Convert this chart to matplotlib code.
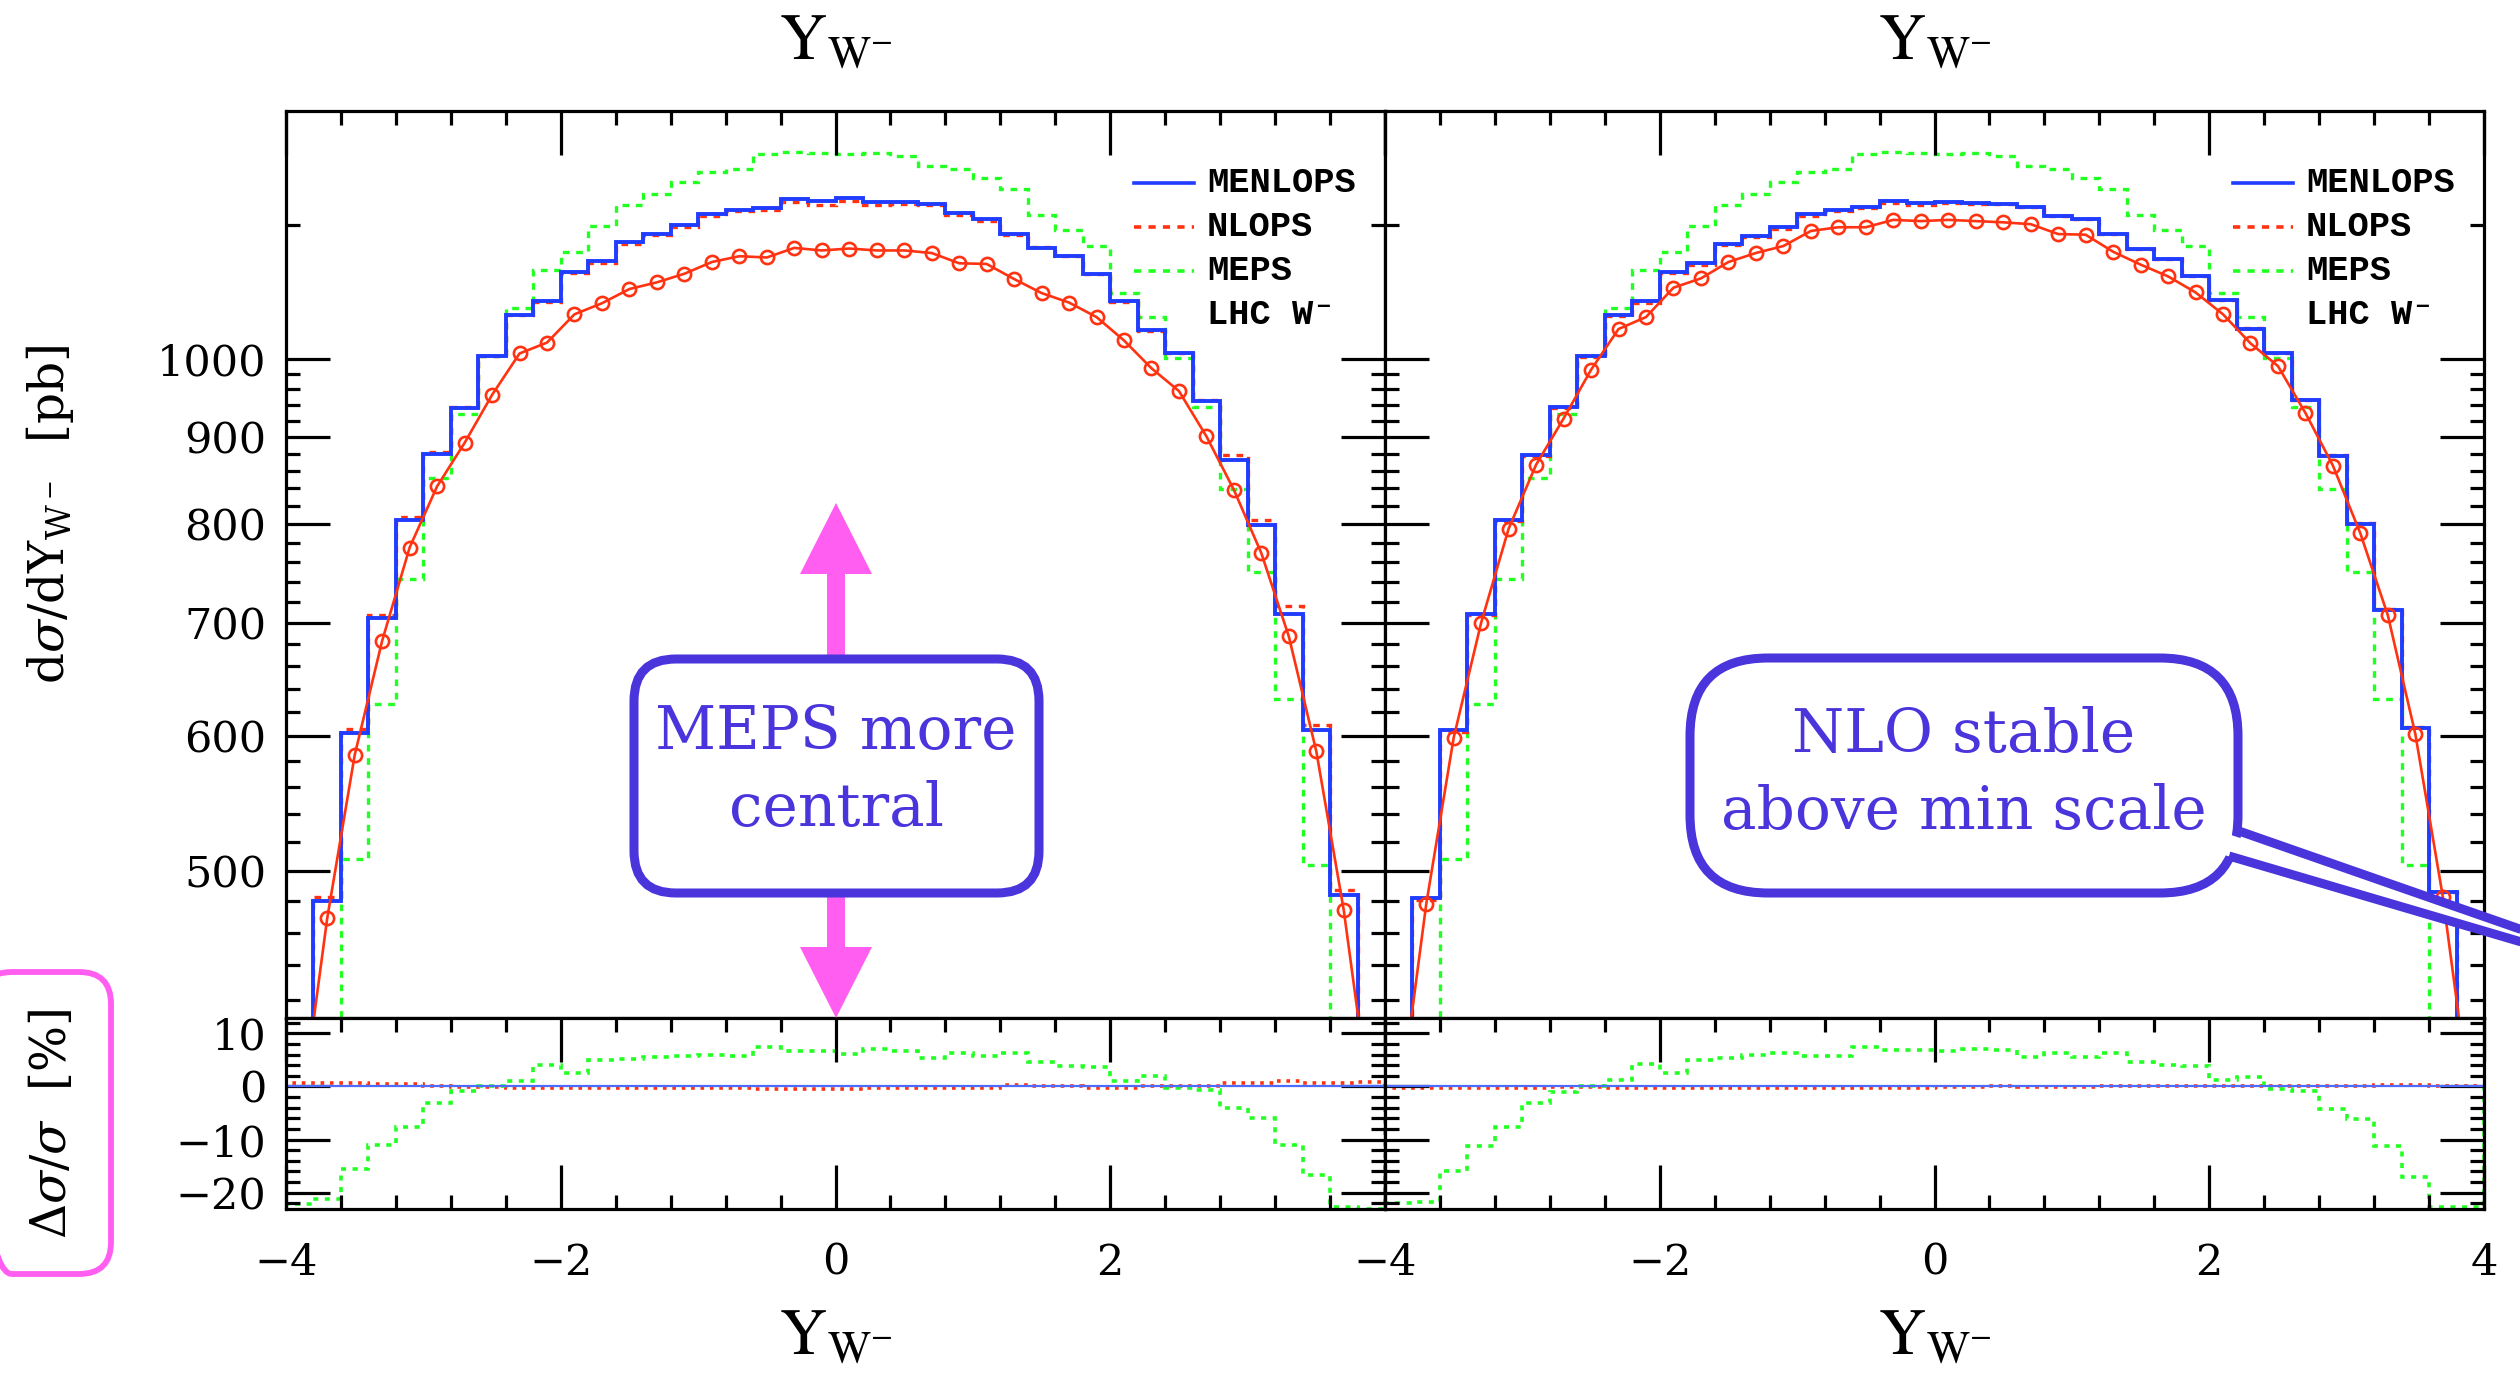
import numpy as np
import matplotlib
matplotlib.use('Agg')
import matplotlib.pyplot as plt
from matplotlib.patches import FancyBboxPatch, Polygon
from matplotlib.lines import Line2D
from matplotlib.transforms import IdentityTransform
from matplotlib.ticker import FixedLocator, FixedFormatter, MultipleLocator, NullFormatter

W, H = 2520, 1375

# bins of Y_W- (width 0.2)
bin_edges = np.round(np.arange(-3.8, 3.81, 0.2), 1)      # 38 bins, main panel
ratio_edges = np.round(np.arange(-4.0, 4.01, 0.2), 1)    # 40 bins, ratio panel
nlo_x = np.round(np.arange(-3.9, 3.91, 0.2), 1)           # bin centres for the NLO curve

# left panel
menlops_L = [480, 603, 704, 804, 880, 936, 1004, 1062, 1083, 1126, 1142, 1172, 1185, 1199, 1217, 1225, 1227, 1242, 1239,
             1244, 1237, 1237, 1235, 1219, 1210, 1185, 1163, 1150, 1123, 1083, 1041, 1008, 945, 873, 799, 708, 605, 484]
nlops_L = [483, 606, 707, 808, 882, 937, 1005, 1062, 1081, 1124, 1140, 1169, 1183, 1196, 1214, 1223, 1224, 1237, 1233,
           1239, 1233, 1234, 1232, 1216, 1206, 1183, 1165, 1150, 1123, 1081, 1039, 1009, 946, 878, 804, 716, 609, 487]
nlo_L = [355, 469, 585, 683, 775, 842, 893, 953, 1008, 1023, 1063, 1079, 1100, 1110, 1123, 1141, 1150, 1148, 1163, 1159,
         1162, 1159, 1159, 1155, 1139, 1138, 1115, 1094, 1080, 1059, 1026, 988, 958, 901, 838, 769, 687, 588, 474, 360]
nlops_ratio_L = [0.6, 0.6, 0.6, 0.5, 0.5, 0.0, -0.1, -0.1, -0.2, -0.2, -0.2, -0.3, -0.2, -0.3, -0.3, -0.2, -0.3, -0.4, -0.5, -0.4,
                 -0.4, -0.3, -0.2, -0.2, -0.3, -0.2, 0.2, 0.0, 0.0, -0.2, -0.2, 0.1, 0.1, 0.0, 0.6, 0.6, 1.0, 0.6, 0.6, 0.8]
meps_ratio_L = [-22.1, -21.3, -15.6, -11.0, -7.7, -3.1, -0.9, 0.0, 1.1, 4.1, 2.6, 4.9, 5.1, 5.5, 5.7, 5.9, 5.7, 7.4, 6.6, 6.6,
                6.1, 7.0, 6.6, 5.3, 6.3, 5.8, 6.4, 4.7, 3.8, 3.7, 1.1, 1.9, -0.3, -0.6, -4.1, -6.0, -11.0, -16.7, -22.7, -23.0]

# right panel
menlops_R = [482, 605, 708, 804, 879, 938, 1004, 1062, 1082, 1126, 1139, 1169, 1182, 1196, 1217, 1225, 1230, 1239, 1236,
             1237, 1236, 1235, 1230, 1215, 1210, 1185, 1162, 1146, 1119, 1084, 1042, 1008, 946, 877, 800, 712, 607, 486]
nlops_R = [481, 604, 707, 803, 877, 936, 1003, 1061, 1080, 1124, 1136, 1167, 1180, 1193, 1215, 1222, 1227, 1236, 1233,
           1236, 1235, 1235, 1229, 1214, 1209, 1185, 1162, 1146, 1120, 1084, 1043, 1009, 946, 878, 801, 713, 608, 486]
nlo_R = [360, 478, 599, 700, 795, 867, 923, 986, 1042, 1059, 1102, 1116, 1141, 1155, 1166, 1190, 1196, 1196, 1208, 1206,
         1208, 1206, 1204, 1201, 1185, 1184, 1157, 1137, 1119, 1095, 1063, 1022, 991, 930, 866, 790, 707, 602, 483, 365]
nlops_ratio_R = [-0.3, -0.3, -0.2, -0.2, -0.2, -0.2, -0.1, -0.1, -0.2, -0.2, -0.3, -0.2, -0.2, -0.3, -0.2, -0.2, -0.3, -0.2, -0.3, -0.2,
                 -0.1, -0.1, 0.0, -0.1, -0.1, -0.1, 0.0, 0.0, 0.1, 0.0, 0.0, 0.1, 0.1, 0.0, 0.1, 0.1, 0.2, 0.2, 0.1, 0.1]
meps_ratio_R = [-22.0, -21.8, -16.0, -11.3, -7.7, -3.1, -1.1, 0.0, 1.3, 4.3, 2.6, 5.0, 5.3, 5.9, 6.3, 5.8, 5.8, 7.4, 6.8, 6.8,
                6.6, 7.1, 6.8, 5.6, 6.4, 5.6, 6.4, 4.7, 4.0, 3.9, 1.3, 1.8, -0.4, -0.8, -4.3, -6.2, -11.3, -17.0, -22.7, -22.7]

# MEPS is the same sample in both panels
meps = [378, 508, 627, 743, 852, 929, 1005, 1072, 1128, 1157, 1198, 1232, 1251, 1271, 1289, 1294, 1320, 1325, 1322,
        1320, 1323, 1318, 1299, 1294, 1279, 1260, 1216, 1191, 1166, 1094, 1059, 1002, 938, 839, 750, 631, 504, 374]

y_major = [500, 600, 700, 800, 900, 1000]
y_minor = [v for v in range(420, 1000, 20) if v % 100 != 0] + [1200]
ratio_major = [-20, -10, 0, 10]
legend_names = ['MENLOPS', 'NLOPS', 'MEPS', 'LHC W\u207b']

BLUE = '#1f3cff'
RED = '#ff3311'
GREEN = '#22ff22'
PURPLE = '#4a34dc'
PINK = '#ff5ef0'
SERIF = ['DejaVu Serif']
TICKFS = 31

fig = plt.figure(figsize=(W / 100, H / 100), dpi=100)


def style_axis(ax):
    for s in ax.spines.values():
        s.set_linewidth(2.3)
    ax.tick_params(which='both', direction='in', width=2.3, left=True, right=True, labelsize=TICKFS)
    ax.tick_params(which='major', length=32)
    ax.tick_params(which='minor', length=10)
    for lab in ax.get_xticklabels() + ax.get_yticklabels():
        lab.set_family(SERIF)


def panel(x0, menlops, nlops, nlo, nlops_ratio, meps_ratio, first):
    ax = fig.add_axes([x0 / W, 1 - 1017.5 / H, 1099 / W, 906.5 / H])
    ar = fig.add_axes([x0 / W, 1 - 1208.5 / H, 1099 / W, 191 / H])

    ax.stairs(meps, bin_edges, baseline=100, color=GREEN, lw=2.4, linestyle=(0, (2, 2)))
    ax.stairs(nlops, bin_edges, baseline=100, color=RED, lw=2.4, linestyle=(0, (2, 2)))
    ax.stairs(menlops, bin_edges, baseline=100, color=BLUE, lw=2.8)
    ax.plot(nlo_x, nlo, color=RED, lw=1.9, marker='o', ms=9.5, mfc='none', mec=RED, mew=1.9)

    ax.set_yscale('log')
    ax.set_xlim(-4, 4)
    ax.set_ylim(410, 1400)
    ax.yaxis.set_major_locator(FixedLocator(y_major))
    ax.yaxis.set_minor_locator(FixedLocator(y_minor))
    ax.yaxis.set_minor_formatter(NullFormatter())
    if first:
        ax.yaxis.set_major_formatter(FixedFormatter([str(v) for v in y_major]))
    else:
        ax.yaxis.set_major_formatter(NullFormatter())
    ax.xaxis.set_major_locator(FixedLocator([-4, -2, 0, 2, 4]))
    ax.xaxis.set_minor_locator(MultipleLocator(0.4))
    ax.tick_params(which='both', top=True, bottom=False, labelbottom=False)
    ax.tick_params(axis='y', pad=14)
    style_axis(ax)

    # legend
    for i, (name, col, ls) in enumerate(zip(legend_names, [BLUE, RED, GREEN, None],
                                            ['-', (0, (2, 2)), (0, (2, 2)), None])):
        yy = 0.9206 - i * 0.0484
        if col is not None:
            ax.add_line(Line2D([0.772, 0.826], [yy, yy], transform=ax.transAxes,
                               color=col, lw=2.6, linestyle=ls))
        ax.text(0.838, yy, name, transform=ax.transAxes, va='center', ha='left',
                family=['Liberation Mono', 'DejaVu Sans Mono'], weight='bold', fontsize=25.5)

    # ratio panel
    ar.axhline(0, color='#4d6bff', lw=1.6)
    ar.stairs(nlops_ratio, ratio_edges, baseline=0, color=RED, lw=2.6, linestyle=(0, (1, 1.6)))
    ar.stairs(meps_ratio, ratio_edges, baseline=0, color=GREEN, lw=2.6, linestyle=(0, (1.4, 1.8)))
    ar.set_xlim(-4, 4)
    ar.set_ylim(-23, 13)
    ar.yaxis.set_major_locator(FixedLocator(ratio_major))
    ar.yaxis.set_minor_locator(MultipleLocator(2))
    if first:
        ar.yaxis.set_major_formatter(FixedFormatter(['\u221220', '\u221210', '0', '10']))
        xl = ['\u22124', '\u22122', '0', '2', '']
    else:
        ar.yaxis.set_major_formatter(NullFormatter())
        xl = ['\u22124', '\u22122', '0', '2', '4']
    ar.xaxis.set_major_locator(FixedLocator([-4, -2, 0, 2, 4]))
    ar.xaxis.set_major_formatter(FixedFormatter(xl))
    ar.xaxis.set_minor_locator(MultipleLocator(0.4))
    ar.tick_params(which='both', top=True, bottom=True)
    ar.tick_params(axis='x', pad=24)
    ar.tick_params(axis='y', pad=14)
    style_axis(ar)
    return ax, ar


panel(286, menlops_L, nlops_L, nlo_L, nlops_ratio_L, meps_ratio_L, True)
panel(1385, menlops_R, nlops_R, nlo_R, nlops_ratio_R, meps_ratio_R, False)

# titles and axis labels
ytitle = r'$\mathrm{Y}_{\mathrm{W}^{-}}$'
for xc in (836, 1935):
    fig.text(xc / W, 1 - 60 / H, ytitle, ha='center', va='baseline', fontsize=47, math_fontfamily='stix')
    fig.text(xc / W, 1 - 1355 / H, ytitle, ha='center', va='baseline', fontsize=47, math_fontfamily='stix')

fig.text(50 / W, 1 - 514 / H, r'd$\sigma$/dY$_{\mathregular{W^-}}$  [pb]', rotation=90, ha='center', va='center',
         family=SERIF, fontsize=35, math_fontfamily='dejavuserif')
fig.text(52 / W, 1 - 1124 / H, r'$\Delta\sigma$/$\sigma$  [%]', rotation=90, ha='center', va='center',
         family=SERIF, fontsize=35, math_fontfamily='dejavuserif')

ident = IdentityTransform()


def top(y):
    return H - y


# pink box round the ratio label
fig.add_artist(FancyBboxPatch((-20, top(1274)), 131, 302, boxstyle='round,pad=0,rounding_size=32',
                              transform=ident, fc='none', ec=PINK, lw=4.2))

# pink double arrow
shaft, head = 9, 36
up = [(836 - shaft, top(657)), (836 - shaft, top(574)), (836 - head, top(574)), (836, top(503)),
      (836 + head, top(574)), (836 + shaft, top(574)), (836 + shaft, top(657))]
dn = [(836 - shaft, top(893)), (836 - shaft, top(947)), (836 - head, top(947)), (836, top(1018)),
      (836 + head, top(947)), (836 + shaft, top(947)), (836 + shaft, top(893))]
for pts in (up, dn):
    fig.add_artist(Polygon(pts, closed=True, transform=ident, fc=PINK, ec='none', zorder=5))

# "MEPS more central" box
fig.add_artist(FancyBboxPatch((634, top(893)), 405, 234, boxstyle='round,pad=0,rounding_size=42',
                              transform=ident, fc='white', ec=PURPLE, lw=6.5, zorder=6))
fig.text(836 / W, 1 - 749 / H, 'MEPS more', ha='center', va='baseline', color=PURPLE, family=SERIF, fontsize=43, zorder=7)
fig.text(836 / W, 1 - 826 / H, 'central', ha='center', va='baseline', color=PURPLE, family=SERIF, fontsize=43, zorder=7)

# "NLO stable above min scale" speech bubble
fig.add_artist(FancyBboxPatch((1690, top(893)), 548, 235, boxstyle='round,pad=0,rounding_size=78',
                              transform=ident, fc='white', ec=PURPLE, lw=6.5, zorder=6))
tail = [(2222, top(832)), (2620, top(963)), (2620, top(970)), (2214, top(852))]
fig.add_artist(Polygon(tail, closed=True, transform=ident, fc='white', ec='none', zorder=6.5))
for (xa, ya), (xb, yb) in [((2236, 830), (2620, 964)), ((2229, 856), (2620, 971))]:
    fig.add_artist(Line2D([xa, xb], [top(ya), top(yb)], transform=ident, color=PURPLE, lw=6.5,
                          solid_capstyle='butt', zorder=7))
fig.text(1964 / W, 1 - 752 / H, 'NLO stable', ha='center', va='baseline', color=PURPLE, family=SERIF, fontsize=43, zorder=8)
fig.text(1964 / W, 1 - 829 / H, 'above min scale', ha='center', va='baseline', color=PURPLE, family=SERIF, fontsize=43, zorder=8)

fig.savefig('out.png', dpi=100)
